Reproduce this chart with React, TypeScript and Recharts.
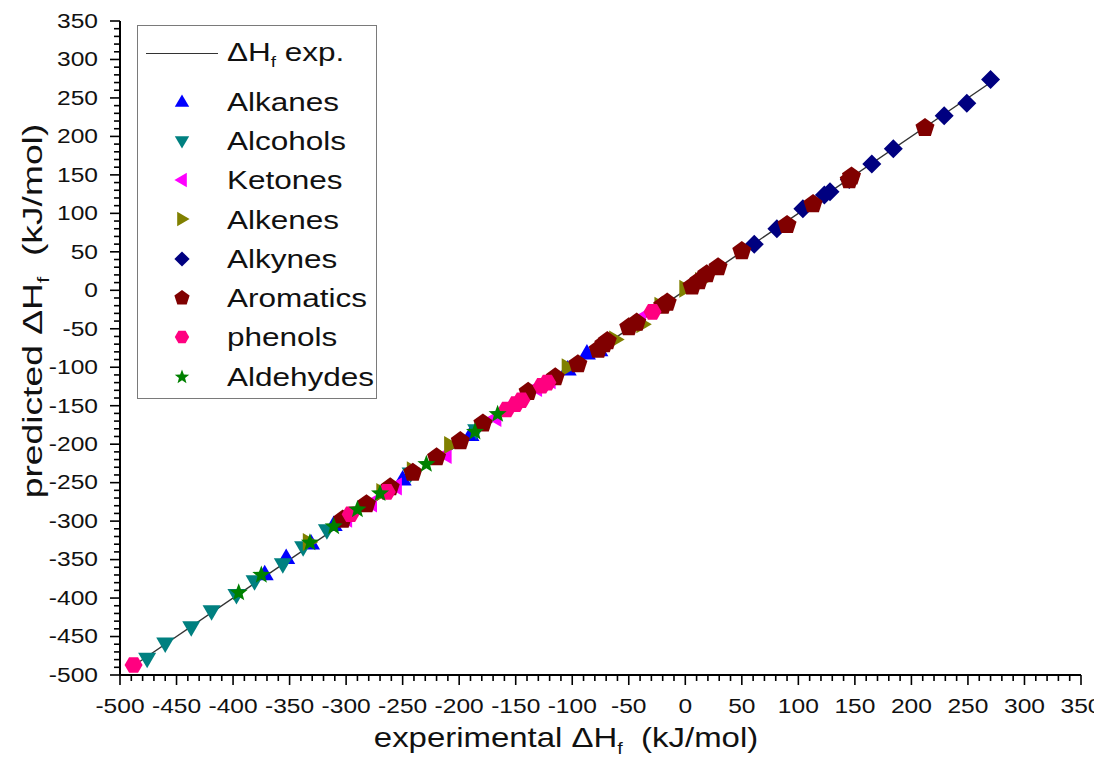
import React from "react";
import { ScatterChart, Scatter, XAxis, YAxis, Legend } from "recharts";

// axis ticks (labelled every 50, minor marks every 10)
const majorTicks = [-500, -450, -400, -350, -300, -250, -200, -150, -100, -50, 0, 50, 100, 150, 200, 250, 300, 350];
const allTicks = majorTicks.flatMap((t, i) =>
  i < majorTicks.length - 1 ? [t, t + 10, t + 20, t + 30, t + 40] : [t]
);

// y = x reference line ("ΔHf exp.")
const expX = [-488, 272];
const expY = [-488, 272];

const alkanesX = [-372, -353, -331, -311, -250, -190, -104, -87, -76];
const alkanesY = [-369, -348, -329, -305, -246, -188, -103, -82, -78];

const alcoholsX = [-476, -460, -437, -419, -397, -381, -356, -338, -317, -243, -185];
const alcoholsY = [-479, -459, -438, -417, -396, -378, -356, -334, -312, -238, -182];

const ketonesX = [-300, -278, -256, -212, -168, -132, -120, -40];
const ketonesY = [-297, -277, -255, -214, -166, -127, -117, -37];

const alkenesX = [-333, -268, -241, -208, -104, -62, -38, -22, 0, 14];
const alkenesY = [-327, -262, -234, -201, -100, -64, -44, -20, 2, 12];

const alkynesX = [61, 81, 104, 123, 128, 145, 165, 184, 229, 249, 270];
const alkynesY = [60, 80, 106, 124, 128, 144, 164, 184, 227, 243, 274];

const aromaticsX = [-303, -282, -261, -241, -220, -199, -179, -139, -115, -95, -77, -72, -69, -50, -43, -20, -16, 6, 12, 19, 29, 50, 90, 113, 145, 147, 212];
const aromaticsY = [-298, -278, -256, -237, -217, -196, -173, -132, -113, -96, -77, -70, -66, -48, -42, -20, -16, 5, 12, 21, 30, 51, 85, 112, 143, 148, 211];

const phenolsX = [-488, -296, -264, -158, -150, -145, -127, -122, -29];
const phenolsY = [-487, -291, -262, -155, -148, -143, -124, -120, -28];

const aldehydesX = [-395, -375, -332, -311, -290, -270, -229, -186, -166];
const aldehydesY = [-393, -370, -328, -307, -285, -264, -226, -184, -161];

const toPoints = (xs: number[], ys: number[]) => xs.map((x, i) => ({ x, y: ys[i] }));

type Kind = "up" | "down" | "left" | "right" | "diamond" | "pentagon" | "hexagon" | "star";

const series: { name: string; color: string; kind: Kind; xs: number[]; ys: number[] }[] = [
  { name: "Alkanes", color: "#0000FF", kind: "up", xs: alkanesX, ys: alkanesY },
  { name: "Alcohols", color: "#008080", kind: "down", xs: alcoholsX, ys: alcoholsY },
  { name: "Ketones", color: "#FF00FF", kind: "left", xs: ketonesX, ys: ketonesY },
  { name: "Alkenes", color: "#808000", kind: "right", xs: alkenesX, ys: alkenesY },
  { name: "Alkynes", color: "#000080", kind: "diamond", xs: alkynesX, ys: alkynesY },
  { name: "Aromatics", color: "#800000", kind: "pentagon", xs: aromaticsX, ys: aromaticsY },
  { name: "phenols", color: "#FF0080", kind: "hexagon", xs: phenolsX, ys: phenolsY },
  { name: "Aldehydes", color: "#008000", kind: "star", xs: aldehydesX, ys: aldehydesY },
];

const FONT = "'Liberation Sans', Arial, sans-serif";
const STRETCH = 1.26;

function polyPoints(kind: Kind, cx: number, cy: number, s: number): string {
  let pts: [number, number][] = [];
  const ring = (n: number, r: number, start: number) =>
    Array.from({ length: n }, (_, i) => {
      const a = start + (i * 2 * Math.PI) / n;
      return [r * Math.cos(a), r * Math.sin(a)] as [number, number];
    });
  switch (kind) {
    case "up":
      pts = [[0, -9.5], [9, 6], [-9, 6]];
      break;
    case "down":
      pts = [[0, 9.5], [9, -6], [-9, -6]];
      break;
    case "left":
      pts = [[-9.5, 0], [6, -9], [6, 9]];
      break;
    case "right":
      pts = [[9.5, 0], [-6, -9], [-6, 9]];
      break;
    case "diamond":
      pts = [[0, -9.5], [9.5, 0], [0, 9.5], [-9.5, 0]];
      break;
    case "pentagon":
      pts = ring(5, 10, -Math.PI / 2);
      break;
    case "hexagon":
      pts = ring(6, 9, 0);
      break;
    case "star": {
      const outer = ring(5, 9.5, -Math.PI / 2);
      const inner = ring(5, 4, -Math.PI / 2 + Math.PI / 5);
      pts = outer.flatMap((p, i) => [p, inner[i]]);
      break;
    }
  }
  return pts.map(([x, y]) => `${cx + x * s},${cy + y * s}`).join(" ");
}

const makeShape = (kind: Kind, color: string) => (props: any) => {
  const { cx, cy } = props;
  if (cx == null || cy == null) return <g />;
  return <polygon points={polyPoints(kind, cx, cy, 1)} fill={color} />;
};

function XTick(props: any) {
  const { x, y, payload } = props;
  const v = payload.value;
  const major = v % 50 === 0;
  return (
    <g>
      <line x1={x} x2={x} y1={y} y2={y + (major ? 10 : 6)} stroke="#000" strokeWidth={1.6} />
      {major && (
        <text
          transform={`translate(${x} ${y + 31}) scale(${STRETCH} 1)`}
          textAnchor="middle"
          dy="0.35em"
          fontFamily={FONT}
          fontSize={19.5}
          fill="#111"
        >
          {v}
        </text>
      )}
    </g>
  );
}

function YTick(props: any) {
  const { x, y, payload } = props;
  const v = payload.value;
  const major = v % 50 === 0;
  return (
    <g>
      <line x1={x} x2={x - (major ? 10 : 6)} y1={y} y2={y} stroke="#000" strokeWidth={1.6} />
      {major && (
        <text
          transform={`translate(${x - 22} ${y}) scale(${STRETCH} 1)`}
          textAnchor="end"
          dy="0.35em"
          fontFamily={FONT}
          fontSize={19.5}
          fill="#111"
        >
          {v}
        </text>
      )}
    </g>
  );
}

function DeltaH({ size }: { size: number }) {
  return (
    <>
      {"\u0394H"}
      <tspan fontSize={size * 0.6} dy={size * 0.25}>f</tspan>
      <tspan dy={-size * 0.25}>{"\u00a0\u00a0"}</tspan>
    </>
  );
}

function XTitle() {
  return (
    <text
      transform={`translate(566 738) scale(1.22 1)`}
      textAnchor="middle"
      dy="0.35em"
      fontFamily={FONT}
      fontSize={27}
      fill="#111"
    >
      experimental <DeltaH size={27} />(kJ/mol)
    </text>
  );
}

function YTitle() {
  return (
    <text
      transform={`translate(33 311) rotate(-90) scale(1.38 1)`}
      textAnchor="middle"
      dy="0.35em"
      fontFamily={FONT}
      fontSize={27}
      fill="#111"
    >
      predicted <DeltaH size={27} />(kJ/mol)
    </text>
  );
}

function LegendBox() {
  const textStyle: React.CSSProperties = {
    position: "absolute",
    left: 89,
    top: "50%",
    transform: `translateY(-50%) scaleX(${STRETCH})`,
    transformOrigin: "left center",
    fontFamily: FONT,
    fontSize: 25,
    color: "#111",
    whiteSpace: "nowrap",
    lineHeight: 1,
  };
  return (
    <div
      style={{
        width: 240,
        boxSizing: "border-box",
        border: "1.5px solid #7a7a7a",
        background: "#fff",
        paddingBottom: 2,
      }}
    >
      <div style={{ position: "relative", height: 56 }}>
        <div style={{ position: "absolute", left: 8, top: 27, width: 72, height: 0, borderTop: "1.3px solid #333" }} />
        <span style={textStyle}>
          {"\u0394H"}
          <sub style={{ fontSize: 15, verticalAlign: "-6px" }}>f</sub> exp.
        </span>
      </div>
      {series.map((s) => (
        <div key={s.name} style={{ position: "relative", height: 39.3 }}>
          <svg width={24} height={24} style={{ position: "absolute", left: 32, top: 7.6 }}>
            <polygon points={polyPoints(s.kind, 12, 12, 0.8)} fill={s.color} />
          </svg>
          <span style={textStyle}>{s.name}</span>
        </div>
      ))}
    </div>
  );
}

export default function App() {
  return (
    <div style={{ position: "absolute", left: 0, top: 0, width: 1094, height: 758, background: "#fff" }}>
      <ScatterChart width={1094} height={758} margin={{ top: 21, right: 13, bottom: 0, left: 0 }}>
        <XAxis
          type="number"
          dataKey="x"
          domain={[-500, 350]}
          ticks={allTicks}
          interval={0}
          allowDataOverflow
          height={83}
          tickSize={0}
          tickMargin={0}
          tickLine={false}
          tick={<XTick />}
          axisLine={{ stroke: "#000", strokeWidth: 2 }}
          label={{ content: () => <XTitle /> }}
        />
        <YAxis
          type="number"
          dataKey="y"
          domain={[-500, 350]}
          ticks={allTicks}
          interval={0}
          allowDataOverflow
          width={120}
          tickSize={0}
          tickMargin={0}
          tickLine={false}
          tick={<YTick />}
          axisLine={{ stroke: "#000", strokeWidth: 2 }}
          label={{ content: () => <YTitle /> }}
        />
        <Legend
          layout="vertical"
          align="center"
          verticalAlign="middle"
          wrapperStyle={{ left: 137, top: 25, width: 240 }}
          content={() => <LegendBox />}
        />
        <Scatter
          name={"\u0394Hf exp."}
          data={toPoints(expX, expY)}
          line={{ stroke: "#333", strokeWidth: 1.4 }}
          lineType="joint"
          shape={() => <g />}
          isAnimationActive={false}
        />
        {series.map((s) => (
          <Scatter
            key={s.name}
            name={s.name}
            data={toPoints(s.xs, s.ys)}
            shape={makeShape(s.kind, s.color)}
            isAnimationActive={false}
          />
        ))}
      </ScatterChart>
    </div>
  );
}
